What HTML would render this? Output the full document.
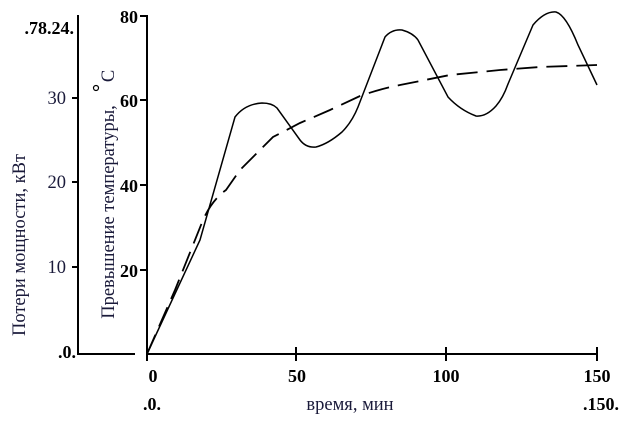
<!DOCTYPE html>
<html><head><meta charset="utf-8"><style>
html,body{margin:0;padding:0;background:#fff;width:627px;height:425px;overflow:hidden}
svg{display:block}
.t{font-family:"Liberation Serif",serif;font-weight:bold;font-size:18px;fill:#000}
.l{font-family:"Liberation Serif",serif;font-size:18.5px;fill:#1a1a3a}
</style></head><body>
<svg width="627" height="425" viewBox="0 0 627 425">
<g stroke="#000" stroke-width="2" fill="none">
<line x1="147" y1="15" x2="147" y2="355"/>
<line x1="147" y1="354" x2="597" y2="354"/>
<line x1="78" y1="354" x2="135" y2="354"/>
<line x1="78" y1="15" x2="78" y2="355"/>
<line x1="140" y1="16" x2="147" y2="16"/>
<line x1="140" y1="100" x2="147" y2="100"/>
<line x1="140" y1="185" x2="147" y2="185"/>
<line x1="140" y1="270" x2="147" y2="270"/>
<line x1="72" y1="98" x2="78" y2="98"/>
<line x1="72" y1="182" x2="78" y2="182"/>
<line x1="72" y1="267" x2="78" y2="267"/>
<line x1="147" y1="354" x2="147" y2="361"/>
<line x1="296" y1="347" x2="296" y2="361"/>
<line x1="446" y1="347" x2="446" y2="361"/>
<line x1="597" y1="347" x2="597" y2="361"/>
</g>
<path d="M147,354 L200,240 L235,117 Q245,104 262,103 Q272,103 277,108 L300,140 Q306,148 316,147 Q328,144 342,132 Q352,122 358,107 L385,37 Q392,29 402,30 Q413,33 418,40 L448,97 Q460,110 476,116 Q486,117 496,106 Q503,98 508,84 L533,25 Q545,11 556,12 Q566,15 578,45 L597,85" fill="none" stroke="#000" stroke-width="1.5"/>
<path d="M147,354 L175,290 L203,220 Q212,200 226,190 L240,170 L273,137 L300,123 L330,110 L360,96 Q380,89 400,85 L450,75 L500,70 L540,67 L597,65" fill="none" stroke="#000" stroke-width="1.8" stroke-dasharray="21,9"/>
<text class="t" x="138" y="23" text-anchor="end">80</text>
<text class="t" x="138" y="107" text-anchor="end">60</text>
<text class="t" x="138" y="192" text-anchor="end">40</text>
<text class="t" x="138" y="277" text-anchor="end">20</text>
<text class="l" x="66" y="104" text-anchor="end">30</text>
<text class="l" x="66" y="188" text-anchor="end">20</text>
<text class="l" x="66" y="273" text-anchor="end">10</text>
<text class="t" x="76" y="358" text-anchor="end" font-size="16">.0.</text>
<text class="t" x="74" y="34" text-anchor="end" font-size="17">.78.24.</text>
<text class="t" x="153" y="382" text-anchor="middle">0</text>
<text class="t" x="297" y="382" text-anchor="middle">50</text>
<text class="t" x="446" y="382" text-anchor="middle">100</text>
<text class="t" x="597" y="382" text-anchor="middle">150</text>
<text class="t" x="152" y="410" text-anchor="middle" font-size="17">.0.</text>
<text class="t" x="601" y="410" text-anchor="middle" font-size="17">.150.</text>
<text class="l" x="350" y="410" text-anchor="middle">время, мин</text>
<text class="l" transform="translate(25,245) rotate(-90)" text-anchor="middle">Потери мощности, кВт</text>
<text class="l" transform="translate(114,212) rotate(-90)" text-anchor="middle">Превышение  температуры,</text>
<text class="l" transform="translate(114,76) rotate(-90)" text-anchor="middle">С</text>
<circle cx="96" cy="88" r="2.5" fill="none" stroke="#000" stroke-width="1.2"/>
</svg>
</body></html>
